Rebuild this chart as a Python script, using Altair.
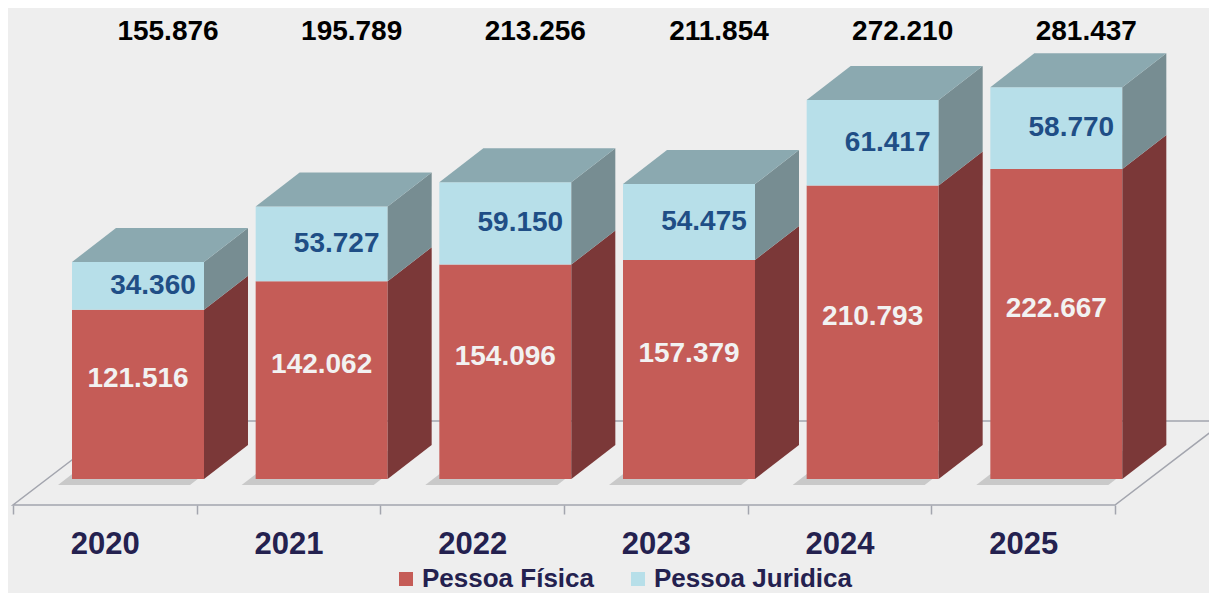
import altair as alt
import pandas as pd

# ---------------- data ----------------
years = ["2020", "2021", "2022", "2023", "2024", "2025"]
pessoa_fisica = [121516, 142062, 154096, 157379, 210793, 222667]
pessoa_juridica = [34360, 53727, 59150, 54475, 61417, 58770]
totais = [155876, 195789, 213256, 211854, 272210, 281437]
series = ["Pessoa Física", "Pessoa Juridica"]

# ---------------- styles / geometry ----------------
front_colors = ["#C55C57", "#B7DFE9"]
side_colors = ["#7B3838", "#778D92"]
top_color = "#8BA9B0"
BG = "#EEEEEE"
FLOOR_STROKE = "#A3A5AE"
FONT = "Liberation Sans"

CAT = 183.67          # px per category
KPX = 1.392e-3        # px per unit of value
PLOT_W = 1102
PLOT_H = 497
Y_MIN = -26 / KPX
Y_MAX = (PLOT_H - 26) / KPX
BAR_X0 = 59 / CAT
BAR_W = 132 / CAT
DX = 44 / CAT
DY = 34 / KPX
FL_DX = 110 / CAT
FL_DY = 84 / KPX
SH_X = 14 / CAT
SH_Y = 6 / KPX


def fmt(v):
    return f"{v:,}".replace(",", ".")


fronts, sides, tops, shadows, lab_pf, lab_pj, lab_tot = [], [], [], [], [], [], []
for i, yr in enumerate(years):
    xl = i + BAR_X0
    xr = xl + BAR_W
    pf = pessoa_fisica[i]
    tot = pf + pessoa_juridica[i]
    segs = [(0, series[0], 0, pf), (1, series[1], pf, tot)]
    for k, name, lo, hi in segs:
        fronts.append({"x": xl, "x2": xr, "lo": lo, "hi": hi, "serie": name})
        fid = f"{yr}-{k}"
        sides.append({"fid": fid, "x": xr, "shi": hi, "slo": lo, "col": side_colors[k]})
        sides.append({"fid": fid, "x": xr + DX, "shi": hi + DY, "slo": lo + DY, "col": side_colors[k]})
    tops.append({"fid": yr, "ty": tot, "x": xl, "x2": xr})
    tops.append({"fid": yr, "ty": tot + DY, "x": xl + DX, "x2": xr + DX})
    shadows.append({"fid": yr, "hy": -SH_Y, "x": xl - SH_X, "x2": xr - SH_X})
    shadows.append({"fid": yr, "hy": DY - SH_Y, "x": xl + DX - SH_X, "x2": xr + DX - SH_X})
    lab_pf.append({"x": (xl + xr) / 2, "ly": pf / 2 + 15 / KPX, "text": fmt(pf)})
    lab_pj.append({"x": (xl + xr) / 2, "ly": (pf + tot) / 2, "text": fmt(pessoa_juridica[i])})
    lab_tot.append({"x": (xl + xr) / 2 + DX / 2, "text": fmt(totais[i])})

floor = pd.DataFrame([
    {"fy": Y_MIN, "x": 0, "x2": 6},
    {"fy": Y_MIN + FL_DY, "x": FL_DX, "x2": 6 + FL_DX},
])

xscale = alt.Scale(domain=[0, 6], nice=False, zero=False)
yscale = alt.Scale(domain=[Y_MIN, Y_MAX], nice=False, zero=False)

label_expr = "[" + ",".join(f"'{y}'" for y in years) + "][datum.value] || ''"

xaxis = alt.Axis(
    values=list(range(7)),
    labelExpr=label_expr,
    labelOffset=CAT / 2,
    domain=False,
    grid=False,
    ticks=True,
    tickSize=9,
    tickColor=FLOOR_STROKE,
    tickWidth=1.5,
    labelFontSize=31,
    labelFont=FONT,
    labelFontWeight="bold",
    labelColor="#24214F",
    labelPadding=15,
    labelOverlap=False,
    labelFlush=False,
    labelBound=False,
    title=None,
)


def X():
    return alt.X("x:Q", scale=xscale, axis=xaxis, title=None)


floor_layer = alt.Chart(floor).mark_area(
    orient="horizontal", fill=BG, stroke=FLOOR_STROKE, strokeWidth=1.5
).encode(
    y=alt.Y("fy:Q", scale=yscale, axis=None, stack=None),
    x=X(),
    x2="x2:Q",
)

shadow_layer = alt.Chart(pd.DataFrame(shadows)).mark_area(
    orient="horizontal", color="#9C9C9C", opacity=0.45
).encode(
    y=alt.Y("hy:Q", scale=yscale, axis=None, stack=None),
    x=X(),
    x2="x2:Q",
    detail="fid:N",
)

front_layer = alt.Chart(pd.DataFrame(fronts)).mark_rect().encode(
    x=X(),
    x2="x2:Q",
    y=alt.Y("hi:Q", scale=yscale, axis=None, stack=None),
    y2="lo:Q",
    color=alt.Color(
        "serie:N",
        scale=alt.Scale(domain=series, range=front_colors),
        legend=alt.Legend(
            title=None,
            orient="none",
            legendX=380,
            legendY=558,
            direction="horizontal",
            symbolType="square",
            symbolSize=196,
            symbolStrokeWidth=0,
            symbolOpacity=1,
            labelFontSize=26,
            labelFont=FONT,
            labelFontWeight="bold",
            labelColor="#24214F",
            labelOffset=3,
            labelLimit=0,
            columnPadding=31,
        ),
    ),
)

side_layer = alt.Chart(pd.DataFrame(sides)).mark_area().encode(
    x=X(),
    y=alt.Y("shi:Q", scale=yscale, axis=None, stack=None),
    y2="slo:Q",
    detail="fid:N",
    fill=alt.Fill("col:N", scale=None),
)

top_layer = alt.Chart(pd.DataFrame(tops)).mark_area(orient="horizontal", color=top_color).encode(
    y=alt.Y("ty:Q", scale=yscale, axis=None, stack=None),
    x=X(),
    x2="x2:Q",
    detail="fid:N",
)

text_style = dict(font=FONT, fontWeight="bold", fontSize=28, align="center", baseline="middle")

pf_text = alt.Chart(pd.DataFrame(lab_pf)).mark_text(color="#F2F2F2", **text_style).encode(
    x=X(),
    y=alt.Y("ly:Q", scale=yscale, axis=None),
    text="text:N",
)

pj_text = alt.Chart(pd.DataFrame(lab_pj)).mark_text(color="#1F4E86", dx=15, **text_style).encode(
    x=X(),
    y=alt.Y("ly:Q", scale=yscale, axis=None),
    text="text:N",
)

tot_text = alt.Chart(pd.DataFrame(lab_tot)).mark_text(color="#000000", dx=8, **text_style).encode(
    x=X(),
    y=alt.value(24),
    text="text:N",
)

chart = alt.layer(
    floor_layer, shadow_layer, front_layer, side_layer, top_layer, pf_text, pj_text, tot_text
).properties(
    width=PLOT_W,
    height=PLOT_H,
    background=BG,
    padding={"left": 5, "top": 0, "right": 94, "bottom": 88},
    autosize=alt.AutoSizeParams(type="none"),
).configure_view(stroke=None)

chart.save("out.html", embed_options={"renderer": "svg", "actions": False})
